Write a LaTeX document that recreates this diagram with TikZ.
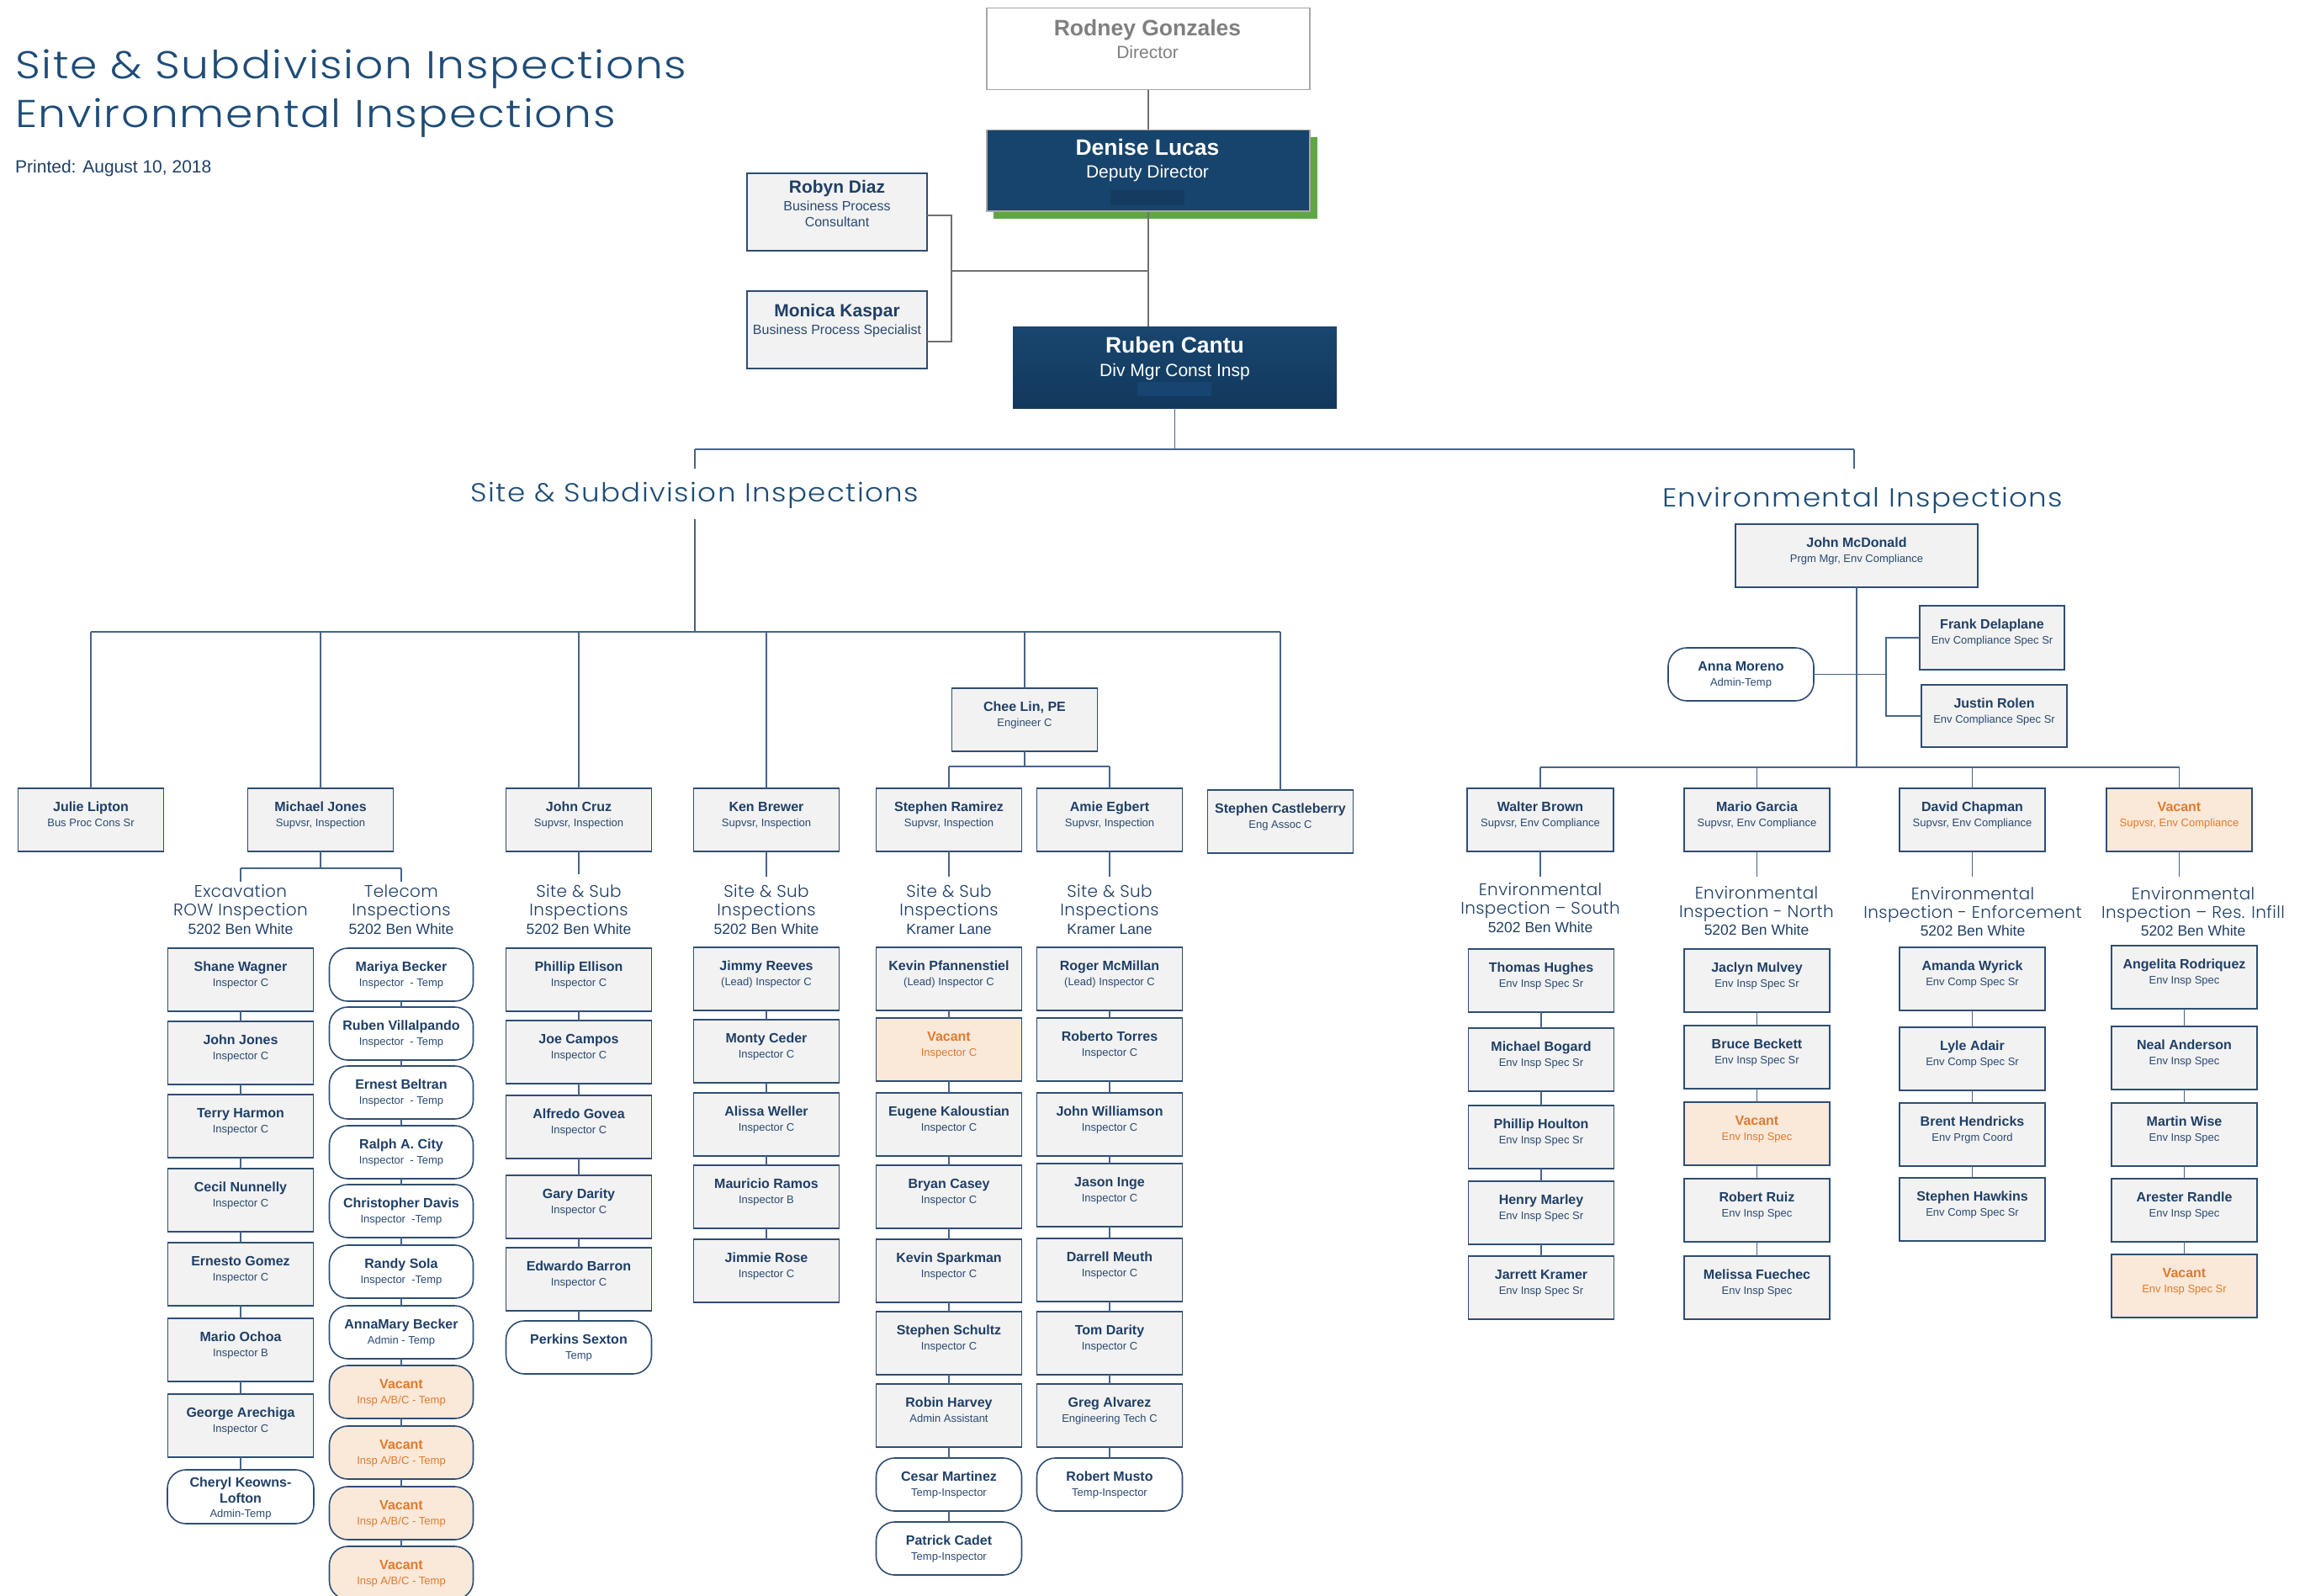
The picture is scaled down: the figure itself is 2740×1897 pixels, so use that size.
\documentclass[tikz,border=0pt]{standalone}
\usepackage{fontspec}
\setmainfont{Liberation Sans}
\newfontfamily\popT{Poppins}[UprightFont={* Light}, FakeStretch=1.13, LetterSpace=3.5]
\newfontfamily\popH{Poppins}[UprightFont={* Light}, FakeStretch=1.1, LetterSpace=4.5]
\newfontfamily\popL{Poppins}[UprightFont={* Light}, LetterSpace=2]
\definecolor{navy}{HTML}{1F3F66}
\definecolor{navy2}{HTML}{2A4A72}
\definecolor{bxd}{HTML}{2E4D73}
\definecolor{bxf}{HTML}{F2F2F2}
\definecolor{lnc}{HTML}{46648A}
\definecolor{glc}{HTML}{707070}
\definecolor{dkf}{HTML}{17446C}
\definecolor{dkart}{HTML}{143C60}
\definecolor{rart}{HTML}{174470}
\definecolor{rtop}{HTML}{19466F}
\definecolor{rbot}{HTML}{12385C}
\definecolor{grn}{HTML}{5FA646}
\definecolor{hdc}{HTML}{1E4C77}
\definecolor{vacf}{HTML}{FAE8D9}
\definecolor{vact}{HTML}{E07B2E}
\definecolor{rgray}{HTML}{A6A6A6}
\definecolor{tgray}{HTML}{7F7F7F}
\tikzset{
 rbox/.style={draw=bxd, fill=bxf, line width=1.6pt, minimum width=173pt, minimum height=75pt, anchor=north, inner sep=0pt, outer sep=0pt},
 rnd/.style={fill=white, rounded corners=22pt, minimum height=63pt, minimum width=171pt},
 vbox/.style={fill=vacf},
 vrnd/.style={rnd, fill=vacf},
 nm/.style={anchor=base, inner sep=0pt, text=navy, font=\fontsize{16}{16}\selectfont\bfseries},
 tl/.style={anchor=base, inner sep=0pt, text=navy2, font=\fontsize{13}{13}\selectfont},
 vnm/.style={nm, text=vact},
 vtl/.style={tl, text=vact},
 ln/.style={draw=lnc, line width=1.5pt},
 gln/.style={draw=glc, line width=1.5pt},
 lblA/.style={anchor=base, inner sep=0pt, text=navy, font=\popL\fontsize{20}{20}\selectfont},
 lblB/.style={anchor=base, inner sep=0pt, text=navy, font=\fontsize{17.5}{17.5}\selectfont},
 big/.style={anchor=base, inner sep=0pt, font=\fontsize{26.5}{26.5}\selectfont\bfseries},
 bigt/.style={anchor=base, inner sep=0pt, font=\fontsize{21}{21}\selectfont},
}
\newcommand\pers[6]{%
 \node[rbox,#2] (#1) at (#3,#4) {};
 \node[nm] (#1n) at (#3,{#4+27.5}) {#5};
 \node[tl] (#1t) at (#3,{#4+45}) {#6};}
\newcommand\vpers[6]{%
 \node[rbox,#2] (#1) at (#3,#4) {};
 \node[vnm] (#1n) at (#3,{#4+27.5}) {#5};
 \node[vtl] (#1t) at (#3,{#4+45}) {#6};}
\newcommand\lbl[5]{%
 \node[lblA] (#1a) at (#2,#3) {#4};
 \node[lblA] (#1b) at (#2,{#3+22}) {#5};}
\begin{document}
\begin{tikzpicture}[x=1pt,y=-1pt]
\useasboundingbox (0,0) rectangle (2740,1897);
\fill[white] (0,0) rectangle (2740,1897);

% ---------- titles ----------
\node[anchor=base west, inner sep=0pt, text=hdc, font=\popT\fontsize{46}{46}\selectfont] (title1) at (18,94) {Site \& Subdivision Inspections};
\node[anchor=base west, inner sep=0pt, text=hdc, font=\popT\fontsize{46}{46}\selectfont] (title2) at (18,152) {Environmental Inspections};
\node[anchor=base west, inner sep=0pt, text=navy, font=\fontsize{21}{21}\selectfont] (printed) at (18,205) {Printed: August 10, 2018};

% ---------- top management ----------
\node[draw=rgray, line width=1.5pt, fill=white, minimum width=384pt, minimum height=97pt, anchor=north west, inner sep=0pt] (rodney) at (1172,9) {};
\node[big, text=tgray] (rodneyn) at (1364,42.5) {Rodney Gonzales};
\node[bigt, text=tgray] (rodneyt) at (1364,70) {Director};

\node[fill=grn, minimum width=385pt, minimum height=97pt, anchor=north west, inner sep=0pt] (dshadow) at (1181,163) {};
\node[draw=rgray, line width=1.5pt, fill=dkf, minimum width=384pt, minimum height=96pt, anchor=north west, inner sep=0pt] (denise) at (1172,154) {};
\node[fill=dkart, minimum width=88pt, minimum height=18pt, anchor=north west, inner sep=0pt] (dart) at (1320,226) {};
\node[big, text=white] (denisen) at (1364,184.5) {Denise Lucas};
\node[bigt, text=white] (deniset) at (1364,211.5) {Deputy Director};

\node[top color=rtop, bottom color=rbot, minimum width=385pt, minimum height=97pt, anchor=north west, inner sep=0pt] (ruben) at (1204,388) {};
\node[fill=rart, minimum width=88pt, minimum height=17pt, anchor=north west, inner sep=0pt] (rart) at (1352,454) {};
\node[big, text=white] (rubenn) at (1396.5,419.5) {Ruben Cantu};
\node[bigt, text=white] (rubent) at (1396.5,447.5) {Div Mgr Const Insp};

\node[rbox, minimum width=214pt, minimum height=92pt, anchor=north west] (robyn) at (888,206) {};
\node[anchor=base, inner sep=0pt, text=navy, font=\fontsize{21}{21}\selectfont\bfseries] (robynn) at (995,229.5) {Robyn Diaz};
\node[anchor=base, inner sep=0pt, text=navy2, font=\fontsize{16}{16}\selectfont] (robynt1) at (995,250.7) {Business Process};
\node[anchor=base, inner sep=0pt, text=navy2, font=\fontsize{16}{16}\selectfont] (robynt2) at (995,269.7) {Consultant};

\node[rbox, minimum width=214pt, minimum height=92pt, anchor=north west] (monica) at (888,346) {};
\node[anchor=base, inner sep=0pt, text=navy, font=\fontsize{21}{21}\selectfont\bfseries] (monican) at (995,376.5) {Monica Kaspar};
\node[anchor=base, inner sep=0pt, text=navy2, font=\fontsize{16}{16}\selectfont] (monicat) at (995,397.7) {Business Process Specialist};

\coordinate (bkT) at (1131,256);
\coordinate (bkB) at (1131,406);
\coordinate (bkM) at (1131,322);
\draw[gln] (rodney.south) -- (denise.north);
\draw[gln] (denise.south) -- (denise.south |- ruben.north);
\draw[gln] (robyn.east |- bkT) -- (bkT) -- (bkB) -- (monica.east |- bkB);
\draw[gln] (bkM) -- (bkM -| denise.south);

% ---------- division split ----------
\coordinate (tbL) at (826,534);
\coordinate (tbR) at (2204,534);
\draw[ln] (ruben.south) -- (ruben.south |- tbL);
\draw[ln] (tbL) -- (tbR);
\draw[ln] (tbL) -- ++(0,23);
\draw[ln] (tbR) -- ++(0,23);
\node[anchor=base, inner sep=0pt, text=hdc, font=\popH\fontsize{31}{31}\selectfont] (sh) at (826,596) {Site \& Subdivision Inspections};
\node[anchor=base, inner sep=0pt, text=hdc, font=\popH\fontsize{31}{31}\selectfont] (eh) at (2214,602) {Environmental Inspections};

% ---------- Site & Subdivision supervisors ----------
\coordinate (shB) at (826,617);
\coordinate (sbus) at (826,751);
\draw[ln] (shB) -- (sbus);
\pers{chee}{}{1218}{818}{Chee Lin, PE}{Engineer C}
\pers{julie}{}{108}{937}{Julie Lipton}{Bus Proc Cons Sr}
\pers{mjones}{}{381}{937}{Michael Jones}{Supvsr, Inspection}
\pers{jcruz}{}{688}{937}{John Cruz}{Supvsr, Inspection}
\pers{kbrewer}{}{911}{937}{Ken Brewer}{Supvsr, Inspection}
\pers{sramirez}{}{1128}{937}{Stephen Ramirez}{Supvsr, Inspection}
\pers{aegbert}{}{1319}{937}{Amie Egbert}{Supvsr, Inspection}
\pers{cast}{}{1522}{939}{Stephen Castleberry}{Eng Assoc C}
\draw[ln] (julie.north |- sbus) -- (cast.north |- sbus);
\foreach \n in {julie,mjones,jcruz,kbrewer,chee,cast} \draw[ln] (\n.north) -- (\n.north |- sbus);
\coordinate (cbus) at (1218,911);
\draw[ln] (chee.south) -- (cbus);
\draw[ln] (sramirez.north |- cbus) -- (aegbert.north |- cbus);
\draw[ln] (sramirez.north) -- (sramirez.north |- cbus);
\draw[ln] (aegbert.north) -- (aegbert.north |- cbus);

% Michael Jones split
\coordinate (mbus) at (381,1032);
\coordinate (mbL) at (286,1032);
\coordinate (mbR) at (477,1032);
\draw[ln] (mjones.south) -- (mbus);
\draw[ln] (mbL) -- (mbR);
\draw[ln] (mbL) -- ++(0,16);
\draw[ln] (mbR) -- ++(0,16);
\draw[ln] (jcruz.south) -- ++(0,27);
\draw[ln] (kbrewer.south) -- ++(0,30);
\draw[ln] (sramirez.south) -- ++(0,30);
\draw[ln] (aegbert.south) -- ++(0,30);

% sub-labels
\lbl{lex}{286}{1066}{Excavation}{ROW Inspection}
\node[lblB] (lexc) at (286,1110) {5202 Ben White};
\lbl{ltc}{477}{1066}{Telecom}{Inspections}
\node[lblB] (ltcc) at (477,1110) {5202 Ben White};
\lbl{lcr}{688}{1066}{Site \& Sub}{Inspections}
\node[lblB] (lcrc) at (688,1110) {5202 Ben White};
\lbl{lkb}{911}{1066}{Site \& Sub}{Inspections}
\node[lblB] (lkbc) at (911,1110) {5202 Ben White};
\lbl{lsr}{1128}{1066}{Site \& Sub}{Inspections}
\node[lblB] (lsrc) at (1128,1110) {Kramer Lane};
\lbl{lae}{1319}{1066}{Site \& Sub}{Inspections}
\node[lblB] (laec) at (1319,1110) {Kramer Lane};

% Excavation column
\pers{ex1}{}{286}{1127}{Shane Wagner}{Inspector C}
\pers{ex2}{}{286}{1214}{John Jones}{Inspector C}
\pers{ex3}{}{286}{1301}{Terry Harmon}{Inspector C}
\pers{ex4}{}{286}{1389}{Cecil Nunnelly}{Inspector C}
\pers{ex5}{}{286}{1477}{Ernesto Gomez}{Inspector C}
\pers{ex6}{}{286}{1567}{Mario Ochoa}{Inspector B}
\pers{ex7}{}{286}{1657}{George Arechiga}{Inspector C}
\node[rbox,rnd,minimum width=174pt,minimum height=64pt] (ex8) at (286,1747) {};
\node[nm] (ex8n) at (286,1767) {Cheryl Keowns-};
\node[nm] (ex8m) at (286,1786) {Lofton};
\node[tl] (ex8t) at (286,1803) {Admin-Temp};
\draw[ln] (ex1) -- (ex2) -- (ex3) -- (ex4) -- (ex5) -- (ex6) -- (ex7) -- (ex8);

% Telecom column
\pers{tc1}{rnd}{477}{1127}{Mariya Becker}{Inspector~ - Temp}
\pers{tc2}{rnd}{477}{1197}{Ruben Villalpando}{Inspector~ - Temp}
\pers{tc3}{rnd}{477}{1267}{Ernest Beltran}{Inspector~ - Temp}
\pers{tc4}{rnd}{477}{1338}{Ralph A. City}{Inspector~ - Temp}
\pers{tc5}{rnd}{477}{1408}{Christopher Davis}{Inspector~ -Temp}
\pers{tc6}{rnd}{477}{1480}{Randy Sola}{Inspector~ -Temp}
\pers{tc7}{rnd}{477}{1552}{AnnaMary Becker}{Admin - Temp}
\vpers{tc8}{vrnd}{477}{1623}{Vacant}{Insp A/B/C - Temp}
\vpers{tc9}{vrnd}{477}{1695}{Vacant}{Insp A/B/C - Temp}
\vpers{tc10}{vrnd}{477}{1767}{Vacant}{Insp A/B/C - Temp}
\vpers{tc11}{vrnd}{477}{1838}{Vacant}{Insp A/B/C - Temp}
\draw[ln] (tc1) -- (tc2) -- (tc3) -- (tc4) -- (tc5) -- (tc6) -- (tc7) -- (tc8) -- (tc9) -- (tc10) -- (tc11);

% John Cruz column
\pers{cr1}{}{688}{1127}{Phillip Ellison}{Inspector C}
\pers{cr2}{}{688}{1213}{Joe Campos}{Inspector C}
\pers{cr3}{}{688}{1302}{Alfredo Govea}{Inspector C}
\pers{cr4}{}{688}{1397}{Gary Darity}{Inspector C}
\pers{cr5}{}{688}{1483}{Edwardo Barron}{Inspector C}
\pers{cr6}{rnd,minimum width=173pt}{688}{1570}{Perkins Sexton}{Temp}
\draw[ln] (cr1) -- (cr2) -- (cr3) -- (cr4) -- (cr5) -- (cr6);

% Ken Brewer column
\pers{kb1}{}{911}{1126}{Jimmy Reeves}{(Lead) Inspector C}
\pers{kb2}{}{911}{1212}{Monty Ceder}{Inspector C}
\pers{kb3}{}{911}{1299}{Alissa Weller}{Inspector C}
\pers{kb4}{}{911}{1385}{Mauricio Ramos}{Inspector B}
\pers{kb5}{}{911}{1473}{Jimmie Rose}{Inspector C}
\draw[ln] (kb1) -- (kb2) -- (kb3) -- (kb4) -- (kb5);

% Stephen Ramirez column
\pers{sr1}{}{1128}{1126}{Kevin Pfannenstiel}{(Lead) Inspector C}
\vpers{sr2}{vbox}{1128}{1210}{Vacant}{Inspector C}
\pers{sr3}{}{1128}{1299}{Eugene Kaloustian}{Inspector C}
\pers{sr4}{}{1128}{1385}{Bryan Casey}{Inspector C}
\pers{sr5}{}{1128}{1473}{Kevin Sparkman}{Inspector C}
\pers{sr6}{}{1128}{1559}{Stephen Schultz}{Inspector C}
\pers{sr7}{}{1128}{1645}{Robin Harvey}{Admin Assistant}
\pers{sr8}{rnd,minimum width=173pt}{1128}{1733}{Cesar Martinez}{Temp-Inspector}
\pers{sr9}{rnd,minimum width=173pt}{1128}{1809}{Patrick Cadet}{Temp-Inspector}
\draw[ln] (sr1) -- (sr2) -- (sr3) -- (sr4) -- (sr5) -- (sr6) -- (sr7) -- (sr8) -- (sr9);

% Amie Egbert column
\pers{ae1}{}{1319}{1126}{Roger McMillan}{(Lead) Inspector C}
\pers{ae2}{}{1319}{1210}{Roberto Torres}{Inspector C}
\pers{ae3}{}{1319}{1299}{John Williamson}{Inspector C}
\pers{ae4}{}{1319}{1383}{Jason Inge}{Inspector C}
\pers{ae5}{}{1319}{1472}{Darrell Meuth}{Inspector C}
\pers{ae6}{}{1319}{1559}{Tom Darity}{Inspector C}
\pers{ae7}{}{1319}{1645}{Greg Alvarez}{Engineering Tech C}
\pers{ae8}{rnd,minimum width=173pt}{1319}{1733}{Robert Musto}{Temp-Inspector}
\draw[ln] (ae1) -- (ae2) -- (ae3) -- (ae4) -- (ae5) -- (ae6) -- (ae7) -- (ae8);

% ---------- Environmental ----------
\pers{jmc}{minimum width=288pt}{2207}{623}{John McDonald}{Prgm Mgr, Env Compliance}
\pers{anna}{rnd,minimum width=173pt}{2069.5}{770}{Anna Moreno}{Admin-Temp}
\pers{frank}{minimum width=172pt,minimum height=76pt}{2368}{720}{Frank Delaplane}{Env Compliance Spec Sr}
\pers{justin}{minimum width=173pt,minimum height=74pt}{2370.5}{814}{Justin Rolen}{Env Compliance Spec Sr}
\coordinate (brk) at (2242,0);
\coordinate (ebus) at (0,912);
\draw[ln] (jmc.south) -- (jmc.south |- ebus);
\draw[ln] (anna.east) -- (anna.east -| brk);
\draw[ln] (frank.west) -- (frank.west -| brk) -- (justin.west -| brk) -- (justin.west);

\pers{walter}{minimum width=174pt}{1831}{937}{Walter Brown}{Supvsr, Env Compliance}
\pers{mgarcia}{}{2088.5}{937}{Mario Garcia}{Supvsr, Env Compliance}
\pers{dchap}{}{2344.5}{937}{David Chapman}{Supvsr, Env Compliance}
\vpers{evac}{vbox}{2590.5}{937}{Vacant}{Supvsr, Env Compliance}
\draw[ln] (walter.north |- ebus) -- (evac.north |- ebus);
\foreach \n in {walter,mgarcia,dchap,evac} {
  \draw[ln] (\n.north) -- (\n.north |- ebus);
  \draw[ln] (\n.south) -- ++(0,30);
}

\lbl{les}{1831}{1064}{Environmental}{Inspection – South}
\node[lblB] (lesc) at (1831,1108) {5202 Ben White};
\lbl{len}{2088}{1068}{Environmental}{Inspection - North}
\node[lblB] (lenc) at (2088,1111) {5202 Ben White};
\lbl{lee}{2345}{1069}{Environmental}{Inspection - Enforcement}
\node[lblB] (leec) at (2345,1112) {5202 Ben White};
\lbl{ler}{2607}{1069}{Environmental}{Inspection – Res. Infill}
\node[lblB] (lerc) at (2607,1112) {5202 Ben White};

% South
\pers{so1}{}{1832}{1128}{Thomas Hughes}{Env Insp Spec Sr}
\pers{so2}{}{1832}{1222}{Michael Bogard}{Env Insp Spec Sr}
\pers{so3}{}{1832}{1314}{Phillip Houlton}{Env Insp Spec Sr}
\pers{so4}{}{1832}{1404}{Henry Marley}{Env Insp Spec Sr}
\pers{so5}{}{1832}{1493}{Jarrett Kramer}{Env Insp Spec Sr}
\draw[ln] (so1) -- (so2) -- (so3) -- (so4) -- (so5);
% North
\pers{no1}{}{2088.5}{1128}{Jaclyn Mulvey}{Env Insp Spec Sr}
\pers{no2}{}{2088.5}{1219}{Bruce Beckett}{Env Insp Spec Sr}
\vpers{no3}{vbox}{2088.5}{1310}{Vacant}{Env Insp Spec}
\pers{no4}{}{2088.5}{1401}{Robert Ruiz}{Env Insp Spec}
\pers{no5}{}{2088.5}{1493}{Melissa Fuechec}{Env Insp Spec}
\draw[ln] (no1) -- (no2) -- (no3) -- (no4) -- (no5);
% Enforcement
\pers{en1}{}{2344.5}{1126}{Amanda Wyrick}{Env Comp Spec Sr}
\pers{en2}{}{2344.5}{1221}{Lyle Adair}{Env Comp Spec Sr}
\pers{en3}{}{2344.5}{1311}{Brent Hendricks}{Env Prgm Coord}
\pers{en4}{}{2344.5}{1400}{Stephen Hawkins}{Env Comp Spec Sr}
\draw[ln] (en1) -- (en2) -- (en3) -- (en4);
% Res. Infill
\pers{ri1}{}{2596.5}{1124}{Angelita Rodriquez}{Env Insp Spec}
\pers{ri2}{}{2596.5}{1220}{Neal Anderson}{Env Insp Spec}
\pers{ri3}{}{2596.5}{1311}{Martin Wise}{Env Insp Spec}
\pers{ri4}{}{2596.5}{1401}{Arester Randle}{Env Insp Spec}
\vpers{ri5}{vbox}{2596.5}{1491}{Vacant}{Env Insp Spec Sr}
\draw[ln] (ri1) -- (ri2) -- (ri3) -- (ri4) -- (ri5);
\end{tikzpicture}
\end{document}
